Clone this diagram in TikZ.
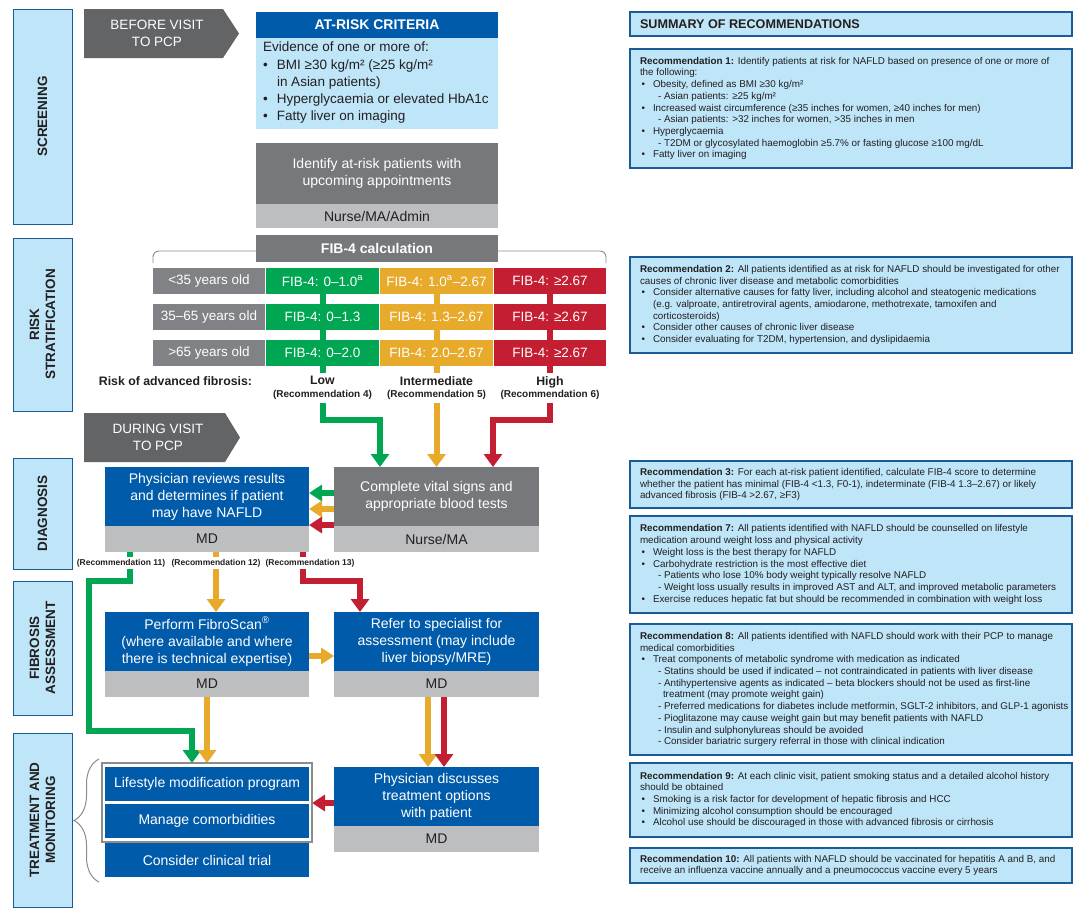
\documentclass[tikz,border=0pt]{standalone}
\usepackage{fontspec}
\setmainfont{Liberation Sans}
\usetikzlibrary{arrows.meta,calc,decorations.pathreplacing}
\definecolor{dblue}{RGB}{0,91,170}
\definecolor{lblue}{RGB}{190,229,248}
\definecolor{sblue}{RGB}{28,92,150}
\definecolor{dgray}{RGB}{119,120,123}
\definecolor{agray}{RGB}{99,100,102}
\definecolor{lgray}{RGB}{188,190,192}
\definecolor{rgray}{RGB}{128,130,133}
\definecolor{grn}{RGB}{0,166,81}
\definecolor{amb}{RGB}{231,170,42}
\definecolor{rd}{RGB}{196,30,50}
\definecolor{txt}{RGB}{35,31,32}
\definecolor{brgray}{RGB}{140,140,140}
\pgfdeclarelayer{bg}
\pgfsetlayers{bg,main}
\newcommand\fmain{\fontsize{14}{17}\selectfont}
\newcommand\fbody{\fontsize{13.5}{17.25}\selectfont}
\newcommand\fcell{\fontsize{13.5}{16}\selectfont}
\newcommand\fbefore{\fontsize{13.5}{16.5}\selectfont}
\newcommand\fside{\fontsize{13.5}{16}\selectfont\bfseries}
\newcommand\frec{\fontsize{9.85}{11.7}\selectfont}
\newcommand\fhead{\fontsize{14}{17}\selectfont\bfseries}
\newcommand\fsum{\fontsize{12.6}{14}\selectfont\bfseries}
\newcommand\flow{\fontsize{12.3}{14}\selectfont\bfseries}
\newcommand\frfour{\fontsize{10}{12.5}\selectfont\bfseries}
\newcommand\frtw{\fontsize{8.5}{10}\selectfont\bfseries}
\newcommand\bu{\hspace*{1.5pt}\makebox[11.5pt][l]{\textbullet}}
\newcommand\bigbu{\makebox[14pt][l]{\textbullet}}
\newcommand\sd{\hspace*{18pt}}
\begin{document}
\begin{tikzpicture}[x=1pt,y=-1pt,
  base/.style={inner sep=0pt,outer sep=0pt,align=center},
  side/.style={base,draw=sblue,line width=1pt,fill=lblue,minimum width=59pt},
  sidetext/.style={base,rotate=90,font=\fside,text=txt},
  bbox/.style={base,fill=dblue,text=white,font=\fmain,minimum width=204pt},
  gbox/.style={base,fill=dgray,text=white,font=\fmain,minimum width=204pt},
  lbox/.style={base,fill=lgray,text=txt,font=\fmain,minimum width=204pt,minimum height=26pt},
  cell/.style={base,text=white,font=\fcell,minimum height=26pt,minimum width=113pt},
  rec/.style={base,draw=sblue,line width=1.2pt,fill=lblue,minimum width=442pt},
  rtext/.style={base,align=left,anchor=west,font=\frec,text=txt},
  arr/.style={line width=6pt,-{Triangle[width=18pt,length=13pt]}},
  harr/.style={line width=6pt,-{Triangle[width=16pt,length=13pt]}},
  reclab/.style={base,fill=white,inner sep=2pt,font=\frtw,text=txt},
  risklab/.style={base,fill=white,inner sep=3pt,font=\frfour,text=txt},
]
\useasboundingbox (0,0) rectangle (1082,913);
\begin{pgfonlayer}{bg}
\fill[white] (0,0) rectangle (1082,913);
\end{pgfonlayer}

% side boxes
\node[side,minimum height=215pt] (scr) at (42.5,116.5) {};
\node[sidetext] (scrt) at (scr) {SCREENING};
\node[side,minimum height=173pt] (rsk) at (42.5,324.5) {};
\node[sidetext] (rskt) at (rsk) {RISK\\STRATIFICATION};
\node[side,minimum height=111pt] (dia) at (42.5,513.5) {};
\node[sidetext] (diat) at (dia) {DIAGNOSIS};
\node[side,minimum height=134pt] (fia) at (42.5,648) {};
\node[sidetext] (fiat) at (fia) {FIBROSIS\\ASSESSMENT};
\node[side,minimum height=174pt] (trm) at (42.5,820) {};
\node[sidetext] (trmt) at (trm) {TREATMENT AND\\MONITORING};

% phase arrows
\fill[agray] (84,9) -- (223,9) -- (239,33.5) -- (223,58) -- (84,58) -- cycle;
\node[base,text=white,font=\fbefore] (bv) at (157,33.5) {BEFORE VISIT\\TO PCP};
\fill[agray] (84,413) -- (225,413) -- (240,437.5) -- (225,462) -- (84,462) -- cycle;
\node[base,text=white,font=\fbefore] (dv) at (158,437.5) {DURING VISIT\\TO PCP};

% at-risk criteria
\node[base,fill=dblue,text=white,font=\fhead,minimum width=242pt,minimum height=26pt] (arh) at (377,25) {AT-RISK CRITERIA};
\node[base,fill=lblue,minimum width=242pt,minimum height=91pt] (arb) at (377,83.5) {};
\node[base,align=left,anchor=west,font=\fbody,text=txt] (arbt) at (263,83) {Evidence of one or more of:\\
\bigbu BMI ≥30 kg/m² (≥25 kg/m²\\
\hspace*{14pt}in Asian patients)\\
\bigbu Hyperglycaemia or elevated HbA1c\\
\bigbu Fatty liver on imaging};
\node[gbox,minimum width=242pt,minimum height=61pt] (idb) at (377,173.5) {Identify at-risk patients with\\upcoming appointments};
\node[lbox,minimum width=242pt,minimum height=24pt] (idr) at (377,216) {Nurse/MA/Admin};

% FIB-4
\node[base,fill=dgray,text=white,font=\fhead,minimum width=242pt,minimum height=27pt] (fib) at (377,248.5) {FIB-4 calculation};
\node[cell,fill=rgray,minimum width=112pt] (a1) at (209,281) {<35 years old};
\node[cell,fill=grn] (g1) at (322.5,281) {FIB-4: 0–1.0\textsuperscript{a}};
\node[cell,fill=amb] (m1) at (436.5,281) {FIB-4: 1.0\textsuperscript{a}–2.67};
\node[cell,fill=rd,minimum width=112pt] (r1) at (550,281) {FIB-4: ≥2.67};
\node[cell,fill=rgray,minimum width=112pt] (a2) at (209,317) {35–65 years old};
\node[cell,fill=grn] (g2) at (322.5,317) {FIB-4: 0–1.3};
\node[cell,fill=amb] (m2) at (436.5,317) {FIB-4: 1.3–2.67};
\node[cell,fill=rd,minimum width=112pt] (r2) at (550,317) {FIB-4: ≥2.67};
\node[cell,fill=rgray,minimum width=112pt] (a3) at (209,353) {>65 years old};
\node[cell,fill=grn] (g3) at (322.5,353) {FIB-4: 0–2.0};
\node[cell,fill=amb] (m3) at (436.5,353) {FIB-4: 2.0–2.67};
\node[cell,fill=rd,minimum width=112pt] (r3) at (550,353) {FIB-4: ≥2.67};
\node[base,anchor=east,font=\flow,text=txt] (rlab) at (252,381) {Risk of advanced fibrosis:};
\node[risklab] (low) at (322.5,388) {{\flow Low}\\(Recommendation 4)};
\node[risklab] (int) at (436.5,388) {{\flow Intermediate}\\(Recommendation 5)};
\node[risklab] (hig) at (550,388) {{\flow High}\\(Recommendation 6)};

% diagnosis
\node[bbox,minimum height=59pt] (pr) at (207,496.5) {Physician reviews results\\and determines if patient\\may have NAFLD};
\node[lbox] (prm) at (207,539) {MD};
\node[gbox,minimum width=205pt,minimum height=59pt] (cv) at (436.5,496.5) {Complete vital signs and\\appropriate blood tests};
\node[lbox,minimum width=205pt] (cvm) at (436.5,539) {Nurse/MA};
\node[reclab] (l11) at (121,563) {(Recommendation 11)};
\node[reclab] (l12) at (216,563) {(Recommendation 12)};
\node[reclab] (l13) at (310,563) {(Recommendation 13)};

% fibrosis assessment
\node[bbox,minimum height=59pt] (fs) at (207,641.5) {Perform FibroScan\textsuperscript{®}\\(where available and where\\there is technical expertise)};
\node[lbox] (fsm) at (207,684) {MD};
\node[bbox,minimum width=205pt,minimum height=59pt] (rf) at (436.5,641.5) {Refer to specialist for\\assessment (may include\\liver biopsy/MRE)};
\node[lbox,minimum width=205pt] (rfm) at (436.5,684) {MD};

% treatment
\node[base,draw=brgray,line width=1.2pt,minimum width=210pt,minimum height=79pt] (fr) at (207,802.5) {};
\node[bbox,minimum height=34pt] (ls) at (207,784) {Lifestyle modification program};
\node[bbox,minimum height=34pt] (mc) at (207,821) {Manage comorbidities};
\node[bbox,minimum height=34pt] (ct) at (207,860) {Consider clinical trial};
\node[bbox,minimum width=205pt,minimum height=59pt] (pd) at (436.5,796.5) {Physician discusses\\treatment options\\with patient};
\node[lbox,minimum width=205pt] (pdm) at (436.5,839) {MD};
\draw[brgray,line width=1pt,decorate,decoration={brace,amplitude=25pt}] (99,882) -- (99,759);

% summary panel
\node[rec,minimum height=24pt] (sum) at (851,24) {};
\node[base,anchor=west,font=\fsum,text=txt] (sumt) at (640,24.5) {SUMMARY OF RECOMMENDATIONS};
\node[rec,minimum height=119pt] (b1) at (851,108.5) {};
\node[rtext] (t1) at (640,108.5) {\textbf{Recommendation 1:} Identify patients at risk for NAFLD based on presence of one or more of\\
the following:\\
\bu Obesity, defined as BMI ≥30 kg/m²\\
\sd - Asian patients: ≥25 kg/m²\\
\bu Increased waist circumference (≥35 inches for women, ≥40 inches for men)\\
\sd - Asian patients: >32 inches for women, >35 inches in men\\
\bu Hyperglycaemia\\
\sd - T2DM or glycosylated haemoglobin ≥5.7\% or fasting glucose ≥100 mg/dL\\
\bu Fatty liver on imaging};
\node[rec,minimum height=96pt] (b2) at (851,305) {};
\node[rtext] (t2) at (640,305) {\textbf{Recommendation 2:} All patients identified as at risk for NAFLD should be investigated for other\\
causes of chronic liver disease and metabolic comorbidities\\
\bu Consider alternative causes for fatty liver, including alcohol and steatogenic medications\\
\hspace*{13pt}(e.g. valproate, antiretroviral agents, amiodarone, methotrexate, tamoxifen and\\
\hspace*{13pt}corticosteroids)\\
\bu Consider other causes of chronic liver disease\\
\bu Consider evaluating for T2DM, hypertension, and dyslipidaemia};
\node[rec,minimum height=47pt] (b3) at (851,484.5) {};
\node[rtext] (t3) at (640,484.5) {\textbf{Recommendation 3:} For each at-risk patient identified, calculate FIB-4 score to determine\\
whether the patient has minimal (FIB-4 <1.3, F0-1), indeterminate (FIB-4 1.3–2.67) or likely\\
advanced fibrosis (FIB-4 >2.67, ≥F3)};
\node[rec,minimum height=97pt] (b7) at (851,564.5) {};
\node[rtext] (t7) at (640,564.5) {\textbf{Recommendation 7:} All patients identified with NAFLD should be counselled on lifestyle\\
medication around weight loss and physical activity\\
\bu Weight loss is the best therapy for NAFLD\\
\bu Carbohydrate restriction is the most effective diet\\
\sd - Patients who lose 10\% body weight typically resolve NAFLD\\
\sd - Weight loss usually results in improved AST and ALT, and improved metabolic parameters\\
\bu Exercise reduces hepatic fat but should be recommended in combination with weight loss};
\node[rec,minimum height=131pt] (b8) at (851,689.5) {};
\node[rtext] (t8) at (640,689.5) {\textbf{Recommendation 8:} All patients identified with NAFLD should work with their PCP to manage\\
medical comorbidities\\
\bu Treat components of metabolic syndrome with medication as indicated\\
\sd - Statins should be used if indicated – not contraindicated in patients with liver disease\\
\sd - Antihypertensive agents as indicated – beta blockers should not be used as first-line\\
\hspace*{23pt}treatment (may promote weight gain)\\
\sd - Preferred medications for diabetes include metformin, SGLT-2 inhibitors, and GLP-1 agonists\\
\sd - Pioglitazone may cause weight gain but may benefit patients with NAFLD\\
\sd - Insulin and sulphonylureas should be avoided\\
\sd - Consider bariatric surgery referral in those with clinical indication};
\node[rec,minimum height=74pt] (b9) at (851,800) {};
\node[rtext] (t9) at (640,800) {\textbf{Recommendation 9:} At each clinic visit, patient smoking status and a detailed alcohol history\\
should be obtained\\
\bu Smoking is a risk factor for development of hepatic fibrosis and HCC\\
\bu Minimizing alcohol consumption should be encouraged\\
\bu Alcohol use should be discouraged in those with advanced fibrosis or cirrhosis};
\node[rec,minimum height=35pt] (b10) at (851,865.5) {};
\node[rtext] (t10) at (640,865.5) {\textbf{Recommendation 10:} All patients with NAFLD should be vaccinated for hepatitis A and B, and\\
receive an influenza vaccine annually and a pneumococcus vaccine every 5 years};

% connectors
\begin{pgfonlayer}{bg}
\draw[brgray,line width=0.9pt,rounded corners=6pt] (153,263) -- (153,251) -- (606,251) -- (606,263);
\draw[arr,grn] (g1.south) -- ++(0,126) -| ($(cv.north west)+(46,0)$);
\draw[arr,amb] (m1.south) -- (m1.south |- cv.north);
\draw[arr,rd] (r1.south) -- ++(0,126) -| ($(cv.north west)+(159,0)$);
\draw[harr,grn] ([yshift=3.5pt]cv.west) -- ([yshift=3.5pt]pr.east);
\draw[harr,amb] ([yshift=-12.5pt]cv.west) -- ([yshift=-12.5pt]pr.east);
\draw[harr,rd] ([yshift=-28.5pt]cv.west) -- ([yshift=-28.5pt]pr.east);
\draw[arr,grn] ([xshift=-77pt]prm.south) -- ++(0,29) -| ++(-41,150) -| ([xshift=-15pt]fr.north);
\draw[arr,amb] ([xshift=9pt]prm.south) -- ([xshift=9pt]fs.north);
\draw[arr,rd] ([xshift=96pt]prm.south) -- ++(0,29) -| ([xshift=-76.5pt]rf.north);
\draw[harr,amb] ([yshift=-14.5pt]fs.east) -- ([yshift=-14.5pt]rf.west);
\draw[arr,amb] (fsm.south) -- (fsm.south |- fr.north);
\draw[arr,amb] ([xshift=-8.5pt]rfm.south) -- ([xshift=-8.5pt]pd.north);
\draw[arr,rd] ([xshift=7.5pt]rfm.south) -- ([xshift=7.5pt]pd.north);
\draw[harr,rd] ([yshift=-6.5pt]pd.west) -- ([yshift=-6.5pt]pd.west -| fr.east);
\end{pgfonlayer}
\end{tikzpicture}
\end{document}
